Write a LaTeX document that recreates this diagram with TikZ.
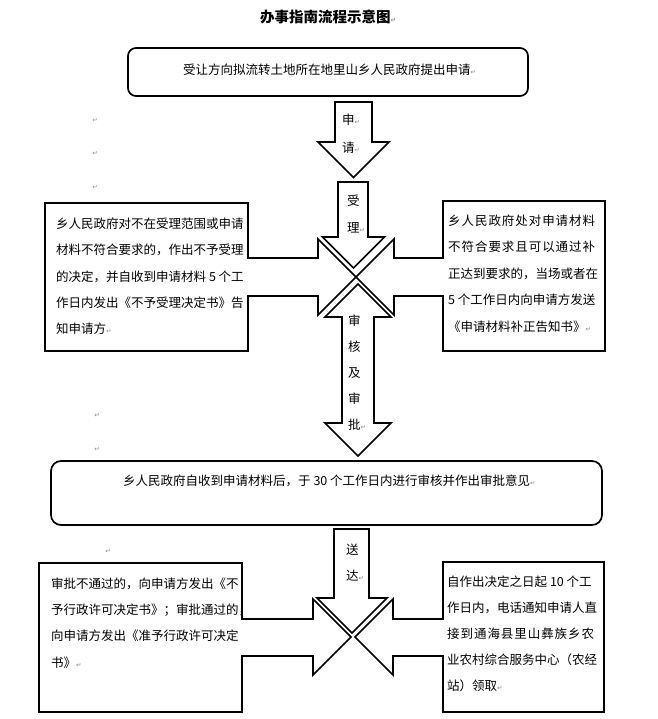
\documentclass[tikz,border=0pt]{standalone}
\usepackage{fontspec}
\setmainfont{Noto Sans CJK SC}
\newfontfamily\mkfont{DejaVu Sans}
\newcommand\rt{{\mkfont\fontsize{6.5}{6.5}\selectfont\textcolor{black!45}{↵}}}
\newcommand\spreadln[1]{{\addfontfeature{LetterSpace=7.5}#1}}
\begin{document}
\begin{tikzpicture}[x=1pt,y=-1pt,
  blk/.style={draw=black,line width=1.7pt,fill=white,line join=miter,miter limit=10},
  txt/.style={inner sep=0pt,align=left,anchor=north west,font=\fontsize{12.5}{26.4}\selectfont},
  line/.style={inner sep=0pt,anchor=west,font=\fontsize{12.5}{15}\selectfont},
  pm/.style={inner sep=0pt}]
\useasboundingbox (0,0) rectangle (657,719);

% title
\node[inner sep=0pt,anchor=west,font=\bfseries\fontsize{14.5}{16}\selectfont] (title) at (260,17) {办事指南流程示意图\rt};

% top box
\draw[blk,rounded corners=8pt] (128,48) rectangle (528,96);
\node[line] (top) at (183,70) {受让方向拟流转土地所在地里山乡人民政府提出申请\rt};

% arrow 申请
\draw[blk] (335,102) -- (372,102) -- (372,142) -- (389,142) -- (353.5,177.5) -- (318,142) -- (335,142) -- cycle;
\node[txt,font=\fontsize{12.5}{28}\selectfont] (a1) at (342,113.4) {申\rt\\请\rt};

% cross 1
\draw[blk] (45,203) -- (248,203) -- (248,258) -- (318,258) -- (318,239) -- (356,277) -- (318,315) -- (318,296) -- (248,296) -- (248,351) -- (45,351) -- cycle;
\draw[blk] (443,201) -- (605,201) -- (605,351) -- (443,351) -- (443,296) -- (394,296) -- (394,315) -- (356,277) -- (394,239) -- (394,258) -- (443,258) -- cycle;
\draw[blk] (338,182) -- (368,182) -- (368,237) -- (384.5,237) -- (353.5,268) -- (322.5,237) -- (338,237) -- cycle;
\draw[blk] (358,284) -- (391,317) -- (374,317) -- (374,423) -- (391,423) -- (358,456) -- (325,423) -- (342,423) -- (342,317) -- (325,317) -- cycle;

\node[txt,font=\fontsize{12.5}{27}\selectfont] (a2) at (347,194.4) {受\\理\rt};
\node[txt,font=\fontsize{12.5}{26}\selectfont] (a3) at (348,314.4) {审\\核\\及\\审\\批\rt};

\node[txt] (l1) at (56,217.4) {乡人民政府对不在受理范围或申请\\材料不符合要求的，作出不予受理\\的决定，并自收到申请材料 5 个工\\作日内发出《不予受理决定书》告\\知申请方\rt};
\node[txt,font=\fontsize{12.5}{26.5}\selectfont] (r1) at (448,214.4) {\spreadln{乡人民政府处对申请材料}\\\spreadln{不符合要求且可以通过补}\\正达到要求的，当场或者在\\5 个工作日内向申请方发送\\《申请材料补正告知书》\rt};

% middle box
\draw[blk,rounded corners=10pt] (51,461) rectangle (602,525);
\node[line] (mid) at (123,481) {乡人民政府自收到申请材料后，于 30 个工作日内进行审核并作出审批意见\rt};

% cross 2
\draw[blk] (39,563) -- (242,563) -- (242,619) -- (313,619) -- (313,599) -- (351,637) -- (313,675) -- (313,656) -- (242,656) -- (242,712) -- (39,712) -- cycle;
\draw[blk] (443,562) -- (604,562) -- (604,712) -- (443,712) -- (443,656) -- (393,656) -- (393,675) -- (355,637) -- (393,599) -- (393,619) -- (443,619) -- cycle;
\draw[blk] (334,529) -- (369,529) -- (369,598) -- (387,598) -- (352,633) -- (317,598) -- (334,598) -- cycle;
\node[txt,font=\fontsize{12.5}{26}\selectfont] (a4) at (346,543.4) {送\\达\rt};

\node[txt] (l2) at (51,577.4) {审批不通过的，向申请方发出《不\\予行政许可决定书》；审批通过的，\\向申请方发出《准予行政许可决定\\书》\rt};
\node[txt,font=\fontsize{12.5}{26.2}\selectfont] (r2) at (447,575.4) {自作出决定之日起 10 个工\\作日内，电话通知申请人直\\\spreadln{接到通海县里山彝族乡农}\\业农村综合服务中心（农经\\站）领取\rt};

% stray paragraph marks
\node[pm] (m1) at (95,120) {\rt};
\node[pm] (m2) at (95,153) {\rt};
\node[pm] (m3) at (95,187) {\rt};
\node[pm] (m4) at (97,415) {\rt};
\node[pm] (m5) at (97,449) {\rt};
\node[pm] (m6) at (108,551) {\rt};
\end{tikzpicture}
\end{document}
